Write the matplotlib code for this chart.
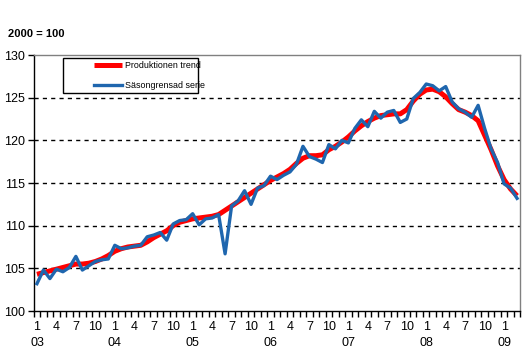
import matplotlib
matplotlib.use("Agg")
import matplotlib.pyplot as plt
import matplotlib.patches as mpatches
import numpy as np

# Monthly data Jan 2003 - Mar 2009 (index 2000 = 100)
years = ['03', '04', '05', '06', '07', '08', '09']
month_labels = ['1', '4', '7', '10']

trend = [104.3, 104.5, 104.7, 104.9, 105.1, 105.3, 105.5, 105.5, 105.6, 105.8, 106.1, 106.5,
         107.0, 107.3, 107.5, 107.6, 107.7, 108.1, 108.6, 109.0, 109.4, 110.0, 110.4, 110.6,
         110.8, 110.9, 111.0, 111.1, 111.3, 111.8, 112.3, 112.8, 113.3, 113.8, 114.3, 114.8,
         115.3, 115.7, 116.1, 116.6, 117.3, 117.9, 118.2, 118.2, 118.3, 118.9, 119.3, 119.8,
         120.4, 121.1, 121.7, 122.2, 122.6, 122.9, 123.0, 123.1, 123.1, 123.6, 124.6, 125.4,
         125.9, 126.0, 125.7, 125.1, 124.3, 123.6, 123.3, 122.9, 122.3, 120.6, 118.9, 117.0,
         115.4, 114.3, 113.5]

seasonal = [103.2, 104.8, 103.8, 104.9, 104.6, 105.1, 106.4, 104.8, 105.3, 105.8, 106.0, 106.1,
            107.7, 107.3, 107.4, 107.6, 107.7, 108.7, 108.9, 109.2, 108.3, 110.2, 110.6, 110.7,
            111.4, 110.1, 110.8, 110.9, 111.3, 106.7, 112.3, 112.9, 114.1, 112.5, 114.4, 114.7,
            115.8, 115.4, 115.9, 116.3, 117.2, 119.3, 118.1, 117.8, 117.4, 119.5, 119.0, 120.0,
            119.7, 121.4, 122.4, 121.6, 123.4, 122.6, 123.3, 123.5, 122.1, 122.5, 124.9, 125.6,
            126.6, 126.4, 125.8, 126.3, 124.5, 123.7, 123.3, 122.7, 124.1, 121.4, 119.0, 117.4,
            114.9, 114.4, 113.2]

series_names = ['Produktionen trend', 'Säsongrensad serie']
y_ticks = [100, 105, 110, 115, 120, 125, 130]

plt.rcParams['font.family'] = ['Liberation Sans', 'DejaVu Sans']

W, H = 524, 354
fig = plt.figure(figsize=(W / 100, H / 100), dpi=100)
ax = fig.add_axes([33.7 / W, 1 - 311 / H, (520.3 - 33.7) / W, (311 - 55) / H])

n = len(trend)
x = np.arange(n)
ax.plot(x, trend, color='#FF0000', lw=3.6, solid_capstyle='butt', label=series_names[0], zorder=3)
ax.plot(x, seasonal, color='#1F66AE', lw=2.4, label=series_names[1], zorder=4)

ax.set_xlim(-0.5, n - 0.5)
ax.set_ylim(100, 130)
ax.set_yticks(y_ticks)
ax.set_yticklabels([str(v) for v in y_ticks], fontsize=9)
ax.tick_params(axis='y', direction='out', length=4, width=1, pad=2)

for v in y_ticks[1:-1]:
    ax.axhline(v, color='black', lw=1, ls=(0, (3, 3)), zorder=1)

# category boundaries as minor ticks
ax.set_xticks(np.arange(-0.5, n, 1), minor=True)
ax.tick_params(axis='x', which='minor', direction='out', length=4, width=1)
major = np.arange(0, n, 3)
labels = []
for i in major:
    m = month_labels[(i % 12) // 3]
    if i % 12 == 0:
        labels.append(m + '\n' + years[i // 12])
    else:
        labels.append(m + '\n ')
ax.set_xticks(major)
ax.set_xticklabels(labels, fontsize=9, linespacing=1.45, va='top')
ax.tick_params(axis='x', which='major', length=0, pad=7)

for s in ['left', 'bottom']:
    ax.spines[s].set_color('black')
    ax.spines[s].set_linewidth(1)
for s in ['top', 'right']:
    ax.spines[s].set_color('#808080')
    ax.spines[s].set_linewidth(1)

fig.text(8 / W, 1 - 34 / H, '2000 = 100', fontsize=8, fontweight='bold', va='center', ha='left')

# legend box
box = mpatches.Rectangle((63 / W, 1 - 92.7 / H), (198.3 - 63) / W, (92.7 - 58.3) / H,
                         transform=fig.transFigure, facecolor='white', edgecolor='black',
                         lw=1, zorder=9, clip_on=False)
ax.add_patch(box)
leg = ax.legend(loc='upper left', bbox_to_anchor=(94 / W, 1 - 61 / H), bbox_transform=fig.transFigure,
                prop={'size': 6.4},
                frameon=False, handlelength=3.2, handletextpad=0.3, borderpad=0,
                labelspacing=1.2, borderaxespad=0)
leg.set_zorder(10)

fig.savefig('out.png', dpi=100)
